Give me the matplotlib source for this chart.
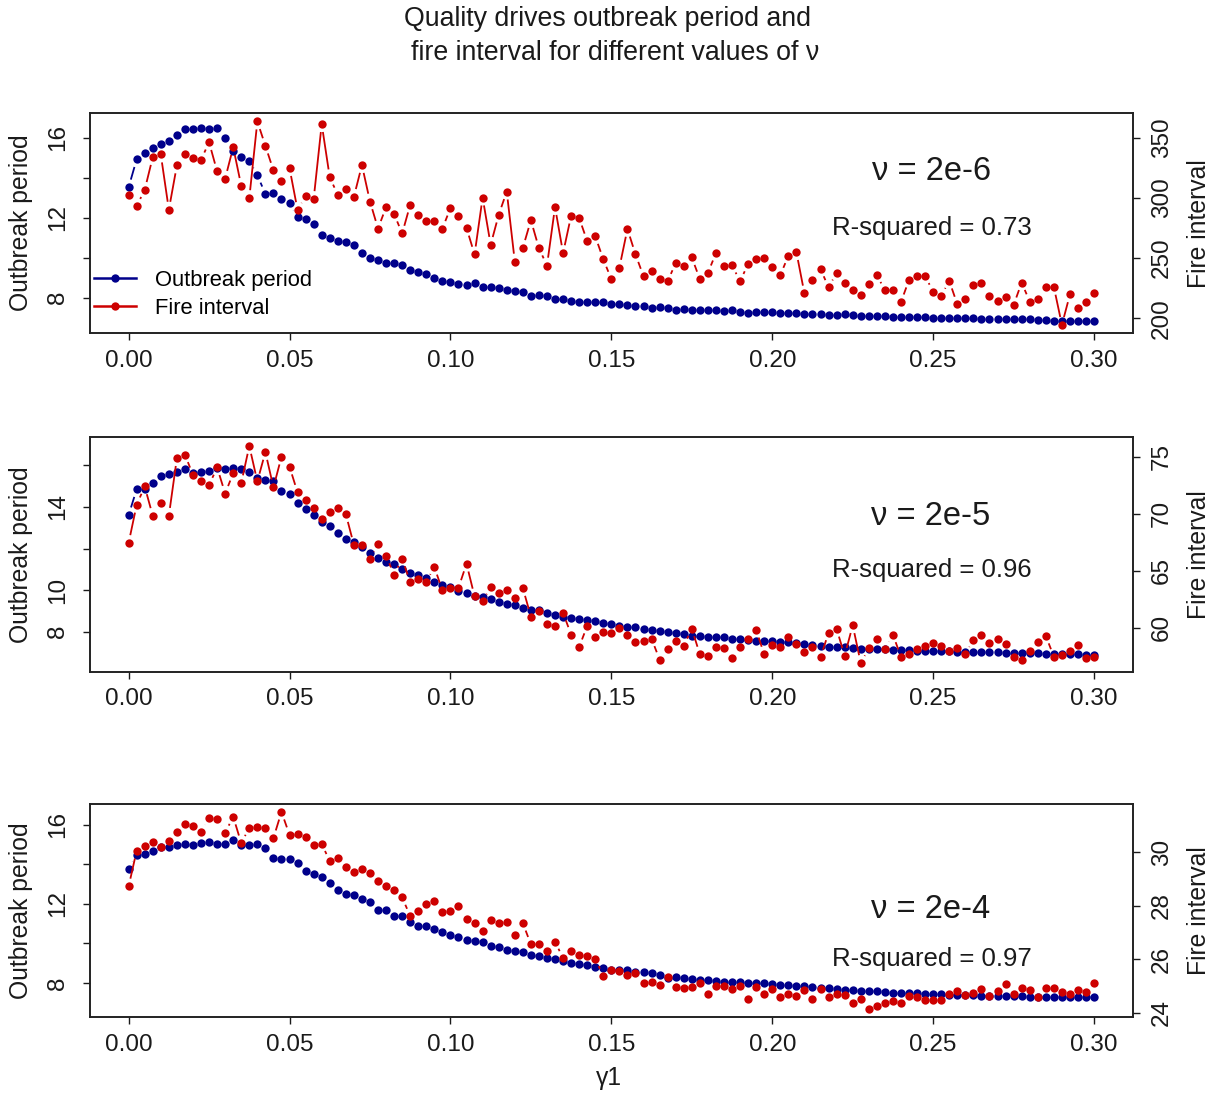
import numpy as np
import matplotlib.pyplot as plt
from matplotlib.collections import LineCollection
from matplotlib.lines import Line2D
from matplotlib.transforms import IdentityTransform

plt.rcParams['font.family'] = ['Liberation Sans', 'DejaVu Sans']

BLUE = '#00008B'
RED = '#CD0000'

# quality parameter grid (step 0.0025)
gamma1 = np.round(np.linspace(0, 0.30, 121), 4)

# nu = 2e-6
outbreak_2e6 = [
    13.51, 14.91, 15.21, 15.49, 15.69, 15.81, 16.13, 16.41, 16.43, 16.48,
    16.43, 16.49, 15.99, 15.34, 15.01, 14.84, 14.11, 13.18, 13.24, 12.93,
    12.71, 12.01, 11.93, 11.69, 11.13, 10.96, 10.83, 10.76, 10.64, 10.24,
    9.99, 9.86, 9.74, 9.74, 9.61, 9.39, 9.28, 9.18, 8.96, 8.83,
    8.76, 8.69, 8.64, 8.71, 8.53, 8.51, 8.46, 8.38, 8.33, 8.26,
    8.08, 8.13, 8.08, 7.91, 7.91, 7.83, 7.78, 7.79, 7.79, 7.78,
    7.66, 7.66, 7.61, 7.59, 7.58, 7.46, 7.53, 7.46, 7.39, 7.41,
    7.36, 7.38, 7.36, 7.36, 7.31, 7.36, 7.29, 7.24, 7.28, 7.29,
    7.28, 7.24, 7.24, 7.23, 7.18, 7.18, 7.18, 7.14, 7.14, 7.16,
    7.11, 7.09, 7.09, 7.06, 7.06, 7.04, 7.03, 7.03, 7.03, 7.03,
    6.99, 6.98, 6.98, 6.96, 6.96, 6.96, 6.93, 6.93, 6.93, 6.91,
    6.91, 6.91, 6.91, 6.88, 6.86, 6.84, 6.84, 6.83, 6.83, 6.83, 6.83]
fire_2e6 = [
    302.6, 293.3, 306.8, 334.0, 336.2, 290.3, 327.1, 337.0, 332.9, 331.8,
    346.4, 322.2, 316.1, 342.3, 310.1, 299.9, 363.7, 343.4, 323.0, 314.2,
    324.9, 290.0, 301.8, 299.1, 361.5, 317.2, 302.6, 307.9, 301.0, 327.4,
    297.1, 274.6, 292.5, 286.7, 270.5, 294.4, 285.6, 280.6, 280.6, 274.6,
    291.6, 285.3, 275.1, 253.1, 300.4, 261.1, 286.1, 305.4, 247.1, 258.6,
    281.5, 258.3, 243.8, 292.5, 254.2, 285.3, 283.4, 264.1, 268.2, 249.0,
    232.5, 242.1, 274.3, 253.1, 234.9, 239.1, 232.5, 230.8, 246.0, 243.2,
    250.6, 232.5, 237.7, 254.2, 243.2, 244.0, 230.8, 245.1, 249.0, 250.4,
    242.7, 235.8, 252.0, 255.0, 220.6, 231.6, 241.0, 225.6, 238.0, 229.7,
    223.1, 219.5, 228.6, 236.1, 223.1, 223.7, 213.5, 231.9, 235.2, 235.2,
    222.0, 218.7, 231.1, 211.6, 216.2, 227.5, 229.7, 218.2, 214.3, 217.9,
    211.0, 229.7, 213.8, 216.2, 226.1, 226.1, 194.5, 219.8, 208.5, 213.8, 220.6]

# nu = 2e-5
outbreak_2e5 = [
    13.61, 14.85, 14.88, 15.14, 15.50, 15.57, 15.70, 15.81, 15.65, 15.68,
    15.73, 15.89, 15.84, 15.86, 15.81, 15.66, 15.41, 15.31, 15.25, 14.78,
    14.61, 14.21, 13.90, 13.61, 13.26, 13.08, 12.73, 12.46, 12.30, 12.09,
    11.80, 11.56, 11.37, 11.26, 11.03, 10.84, 10.73, 10.58, 10.38, 10.23,
    10.17, 9.96, 9.85, 9.74, 9.69, 9.56, 9.43, 9.32, 9.27, 9.14,
    9.05, 9.05, 8.92, 8.79, 8.73, 8.68, 8.63, 8.55, 8.50, 8.41,
    8.39, 8.26, 8.25, 8.21, 8.15, 8.08, 8.02, 7.99, 7.96, 7.91,
    7.81, 7.78, 7.75, 7.73, 7.73, 7.65, 7.64, 7.60, 7.57, 7.56,
    7.57, 7.51, 7.49, 7.44, 7.41, 7.36, 7.33, 7.27, 7.25, 7.25,
    7.20, 7.19, 7.17, 7.15, 7.15, 7.12, 7.11, 7.11, 7.09, 7.07,
    7.07, 7.07, 7.06, 7.04, 7.04, 7.03, 7.01, 7.01, 7.01, 6.99,
    6.98, 6.98, 6.96, 6.96, 6.95, 6.95, 6.93, 6.93, 6.91, 6.90, 6.90]
fire_2e5 = [
    67.45, 70.80, 72.41, 69.83, 71.00, 69.83, 74.90, 75.20, 73.41, 72.85,
    72.53, 74.08, 71.79, 73.58, 72.70, 75.96, 72.85, 75.43, 72.32, 75.02,
    74.14, 71.88, 71.24, 70.50, 69.54, 70.18, 70.50, 69.98, 67.28, 67.28,
    66.07, 67.33, 66.31, 64.66, 66.07, 64.02, 64.28, 64.05, 65.34, 63.29,
    63.49, 63.52, 65.63, 62.76, 62.32, 63.61, 63.05, 63.29, 62.64, 63.49,
    61.00, 61.52, 60.35, 60.18, 61.32, 59.41, 58.33, 60.18, 59.18, 59.65,
    59.59, 59.97, 59.41, 58.77, 58.83, 59.06, 57.21, 58.18, 58.86, 58.42,
    59.94, 57.68, 57.56, 58.30, 58.21, 57.33, 58.30, 59.06, 59.82, 57.68,
    58.53, 58.30, 59.24, 58.62, 57.86, 58.30, 57.42, 59.59, 59.91, 57.56,
    60.23, 56.92, 58.21, 59.06, 58.18, 59.41, 57.45, 57.74, 58.12, 58.44,
    58.65, 58.44, 58.00, 58.21, 57.71, 58.97, 59.41, 58.65, 59.03, 58.56,
    57.45, 57.18, 57.95, 58.80, 59.30, 57.48, 57.59, 57.95, 58.53, 57.36, 57.45]

# nu = 2e-4
outbreak_2e4 = [
    13.78, 14.49, 14.54, 14.70, 14.89, 14.89, 14.96, 15.03, 14.96, 15.11,
    15.14, 15.01, 15.01, 15.24, 14.96, 14.96, 15.03, 14.82, 14.33, 14.28,
    14.28, 14.06, 13.67, 13.51, 13.35, 13.05, 12.73, 12.48, 12.43, 12.24,
    12.09, 11.67, 11.67, 11.41, 11.40, 11.09, 10.87, 10.87, 10.72, 10.60,
    10.43, 10.32, 10.18, 10.11, 10.05, 9.88, 9.81, 9.69, 9.62, 9.56,
    9.39, 9.34, 9.25, 9.19, 9.12, 9.00, 8.95, 8.90, 8.81, 8.78,
    8.66, 8.63, 8.63, 8.53, 8.53, 8.48, 8.38, 8.24, 8.29, 8.24,
    8.21, 8.16, 8.14, 8.12, 8.07, 8.04, 8.04, 8.00, 8.00, 7.99,
    7.95, 7.92, 7.89, 7.85, 7.82, 7.77, 7.73, 7.72, 7.70, 7.65,
    7.65, 7.60, 7.60, 7.58, 7.53, 7.51, 7.48, 7.48, 7.48, 7.45,
    7.45, 7.43, 7.41, 7.41, 7.40, 7.38, 7.36, 7.35, 7.35, 7.35,
    7.33, 7.33, 7.31, 7.31, 7.31, 7.31, 7.30, 7.30, 7.30, 7.30, 7.28]
fire_2e4 = [
    28.72, 30.06, 30.25, 30.37, 30.19, 30.42, 30.75, 31.05, 31.00, 30.77,
    31.29, 31.25, 30.73, 31.33, 30.34, 30.92, 30.96, 30.92, 30.53, 31.51,
    30.65, 30.68, 30.56, 30.27, 30.32, 29.66, 29.80, 29.45, 29.26, 29.38,
    29.23, 28.94, 28.72, 28.58, 28.31, 27.61, 27.81, 28.07, 28.17, 27.76,
    27.80, 28.00, 27.50, 27.35, 27.07, 27.45, 27.35, 27.40, 26.89, 27.35,
    26.55, 26.55, 26.29, 26.66, 26.03, 26.29, 26.14, 26.11, 26.01, 25.37,
    25.58, 25.55, 25.42, 25.48, 25.11, 25.14, 25.04, 25.33, 24.96, 24.92,
    24.96, 25.11, 24.68, 25.01, 25.01, 24.87, 25.01, 24.50, 24.96, 24.70,
    24.89, 24.58, 24.71, 24.64, 24.86, 24.50, 24.89, 24.58, 24.71, 24.67,
    24.36, 24.50, 24.12, 24.25, 24.36, 24.42, 24.36, 24.62, 24.58, 24.46,
    24.46, 24.46, 24.71, 24.81, 24.67, 24.73, 24.87, 24.61, 24.81, 25.07,
    24.71, 24.93, 24.86, 24.58, 24.93, 24.93, 24.76, 24.71, 24.83, 24.77, 25.11]

nu_labels = ['2e-6', '2e-5', '2e-4']
r_squared = ['0.73', '0.96', '0.97']
outbreak = [outbreak_2e6, outbreak_2e5, outbreak_2e4]
fire = [fire_2e6, fire_2e5, fire_2e4]

x_ticks = [0.00, 0.05, 0.10, 0.15, 0.20, 0.25, 0.30]
left_ticks = [8, 10, 12, 14, 16]
left_shown = [[8, 12, 16], [8, 10, 14], [8, 12, 16]]
left_limits = [(6.225, 17.21), (6.08, 17.35), (6.26, 17.06)]
right_ticks = [[200, 250, 300, 350], [60, 65, 70, 75], [24, 26, 28, 30]]

W, H = 1224, 1095
# plot boxes in pixels: left, top, right, bottom
boxes = [(90, 113.3, 1132.7, 333.0),
         (90, 437.3, 1132.7, 671.7),
         (90, 804.0, 1132.7, 1017.3)]

TICK_FS = 17.5
LABEL_FS = 17.8
DOT = 6.0


def fx(px):
    return px / W


def fy(py):
    return 1 - py / H


def r_range(vals):
    # R-style axis range: data range padded by 4% on each side
    lo, hi = min(vals), max(vals)
    pad = 0.04 * (hi - lo)
    return lo - pad, hi + pad


def draw_type_b(ax, x, y, color, gap=8.0, lw=1.3):
    # segments between points with a gap around each point (like R type="b")
    pts = ax.transData.transform(np.column_stack([x, y]))
    segs = []
    for p, q in zip(pts[:-1], pts[1:]):
        d = q - p
        dist = np.hypot(d[0], d[1])
        if dist > 2 * gap:
            u = d / dist
            segs.append([p + u * gap, q - u * gap])
    lc = LineCollection(segs, colors=color, linewidths=lw,
                        transform=IdentityTransform())
    ax.add_collection(lc, autolim=False)
    ax.plot(x, y, 'o', color=color, ms=DOT, mec='none', zorder=3)


fig = plt.figure(figsize=(W / 100, H / 100), dpi=100)

for k in range(3):
    l, t, r, b = boxes[k]
    ax = fig.add_axes([fx(l), fy(b), (r - l) / W, (b - t) / H])
    ax2 = ax.twinx()

    ax.set_xlim(-0.012, 0.312)
    ax.set_ylim(*left_limits[k])
    ax2.set_ylim(*r_range(fire[k]))

    ax.set_xticks(x_ticks)
    ax.set_xticklabels([f'{v:.2f}' for v in x_ticks])
    ax.set_yticks(left_ticks)
    ax.set_yticklabels([str(v) if v in left_shown[k] else '' for v in left_ticks])
    ax2.set_yticks(right_ticks[k])
    ax2.set_yticklabels([str(v) for v in right_ticks[k]])

    ax.tick_params(axis='x', direction='out', length=5, width=1,
                   labelsize=TICK_FS, pad=7, colors='#1a1a1a')
    ax.tick_params(axis='y', direction='out', length=5, width=1,
                   labelsize=TICK_FS, pad=10, labelrotation=90, colors='#1a1a1a')
    ax2.tick_params(axis='y', direction='out', length=5, width=1,
                    labelsize=TICK_FS, pad=8, labelrotation=90, colors='#1a1a1a')
    for lab in ax.get_yticklabels() + ax2.get_yticklabels():
        lab.set_va('center')

    for a in (ax, ax2):
        for s in a.spines.values():
            s.set_color('#222222')
            s.set_linewidth(1.2)

    draw_type_b(ax, gamma1, outbreak[k], BLUE)
    draw_type_b(ax2, gamma1, fire[k], RED)

    cy = (t + b) / 2
    fig.text(fx(21), fy(cy), 'Outbreak period', rotation=90, ha='center',
             va='center', fontsize=LABEL_FS, color='#1a1a1a')
    fig.text(fx(1199), fy(cy), 'Fire interval', rotation=90, ha='center',
             va='center', fontsize=LABEL_FS, color='#1a1a1a')

    nu_y = [171, 516, 910][k]
    rs_y = [228, 570, 959][k]
    fig.text(fx(931), fy(nu_y), f'ν = {nu_labels[k]}', ha='center', va='center',
             fontsize=23.5, color='#1a1a1a')
    fig.text(fx(932), fy(rs_y), f'R-squared = {r_squared[k]}', ha='center',
             va='center', fontsize=18.5, color='#1a1a1a')

    if k == 0:
        handles = [Line2D([], [], color=BLUE, lw=1.8, marker='o', ms=DOT, mec='none'),
                   Line2D([], [], color=RED, lw=1.8, marker='o', ms=DOT, mec='none')]
        ax2.legend(handles, ['Outbreak period', 'Fire interval'], loc='upper left',
                   bbox_to_anchor=(fx(94), fy(270)), bbox_transform=fig.transFigure,
                   frameon=False, fontsize=15.8, borderpad=0, borderaxespad=0,
                   handlelength=1.9, handletextpad=0.9, labelspacing=0.3)

fig.text(fx(607), fy(19), 'Quality drives outbreak period and', ha='center',
         va='center', fontsize=19.3, color='#1a1a1a')
fig.text(fx(615), fy(53), 'fire interval for different values of ν', ha='center',
         va='center', fontsize=19.3, color='#1a1a1a')
fig.text(fx(609), fy(1078), 'γ1', ha='center', va='center',
         fontsize=LABEL_FS, color='#1a1a1a')

fig.savefig('out.png', dpi=100, facecolor='white')
